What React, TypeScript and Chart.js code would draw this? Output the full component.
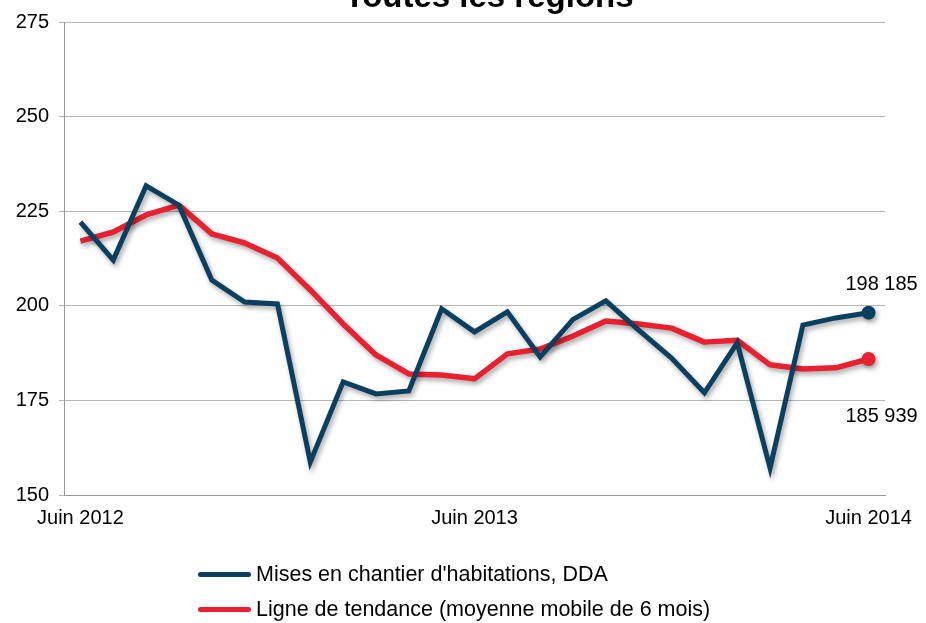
import React, { useEffect, useRef } from "react";
import { Chart, registerables } from "chart.js";

Chart.register(...registerables);

const TITLE = "Toutes les régions";

const MONTHS = [
  "Juin 2012", "Juil. 2012", "Août 2012", "Sept. 2012", "Oct. 2012", "Nov. 2012",
  "Déc. 2012", "Janv. 2013", "Févr. 2013", "Mars 2013", "Avr. 2013", "Mai 2013",
  "Juin 2013", "Juil. 2013", "Août 2013", "Sept. 2013", "Oct. 2013", "Nov. 2013",
  "Déc. 2013", "Janv. 2014", "Févr. 2014", "Mars 2014", "Avr. 2014", "Mai 2014",
  "Juin 2014",
];

const SHOWN_LABELS = ["Juin 2012", "Juin 2013", "Juin 2014"];

const MISES_EN_CHANTIER = [
  222.1, 212.1, 231.7, 226.6, 206.8, 201.0, 200.5, 158.7, 179.9, 176.7,
  177.5, 199.2, 193.1, 198.4, 186.5, 196.4, 201.3, 193.6, 186.2, 177.0,
  190.2, 157.1, 194.9, 196.8, 198.185,
];

const TENDANCE = [
  217.1, 219.5, 224.0, 226.6, 219.0, 216.6, 212.6, 204.2, 195.2, 187.0,
  182.0, 181.7, 180.7, 187.3, 188.6, 192.0, 196.0, 195.2, 194.1, 190.4,
  190.9, 184.4, 183.3, 183.6, 185.939,
];

const Y_TICKS = [150, 175, 200, 225, 250, 275];

const SERIES_NAMES = [
  "Mises en chantier d'habitations, DDA",
  "Ligne de tendance (moyenne mobile de 6 mois)",
];

const BLUE = "#0b3f5f";
const RED = "#e8202f";
const FONT = "Arial, 'Liberation Sans', sans-serif";

function fmt(v: number) {
  const n = Math.round(v * 1000).toString();
  return n.replace(/\B(?=(\d{3})+(?!\d))/g, " ");
}

export default function App() {
  const ref = useRef<HTMLCanvasElement | null>(null);

  useEffect(() => {
    document.body.style.margin = "0";
    const canvas = ref.current;
    if (!canvas) return;

    const titlePlugin = {
      id: "cutTitle",
      afterDraw(chart: any) {
        const ctx = chart.ctx;
        ctx.save();
        ctx.font = `bold 33px ${FONT}`;
        ctx.fillStyle = "#000";
        ctx.textAlign = "center";
        ctx.textBaseline = "alphabetic";
        ctx.fillText(TITLE, 489, 7);
        ctx.restore();
      },
    };

    const shadowPlugin = {
      id: "lineShadow",
      beforeDatasetDraw(chart: any) {
        const ctx = chart.ctx;
        ctx.save();
        ctx.shadowColor = "rgba(0,0,0,0.35)";
        ctx.shadowBlur = 5;
        ctx.shadowOffsetX = 2;
        ctx.shadowOffsetY = 3;
      },
      afterDatasetDraw(chart: any) {
        chart.ctx.restore();
      },
    };

    const valueLabels = {
      id: "valueLabels",
      afterDatasetsDraw(chart: any) {
        const ctx = chart.ctx;
        const offsets = [-28, 57];
        ctx.save();
        ctx.font = `20px ${FONT}`;
        ctx.fillStyle = "#000";
        ctx.textAlign = "center";
        ctx.textBaseline = "middle";
        chart.data.datasets.forEach((ds: any, i: number) => {
          const meta = chart.getDatasetMeta(i);
          const last = meta.data[meta.data.length - 1];
          const v = ds.data[ds.data.length - 1];
          ctx.fillText(fmt(v), last.x + 13, last.y + offsets[i]);
        });
        ctx.restore();
      },
    };

    const lastOnly = (r: number) => MONTHS.map((_, i) => (i === MONTHS.length - 1 ? r : 0));

    const chart = new Chart(canvas, {
      type: "line",
      data: {
        labels: MONTHS,
        datasets: [
          {
            label: SERIES_NAMES[0],
            data: MISES_EN_CHANTIER,
            borderColor: BLUE,
            backgroundColor: BLUE,
            borderWidth: 5,
            pointRadius: lastOnly(7),
            pointHoverRadius: lastOnly(7),
            pointBorderWidth: 0,
            tension: 0,
            borderJoinStyle: "miter",
          },
          {
            label: SERIES_NAMES[1],
            data: TENDANCE,
            borderColor: RED,
            backgroundColor: RED,
            borderWidth: 5.5,
            pointRadius: lastOnly(7),
            pointHoverRadius: lastOnly(7),
            pointBorderWidth: 0,
            tension: 0,
            borderJoinStyle: "round",
          },
        ],
      },
      options: {
        animation: false,
        responsive: false,
        layout: { padding: { top: 22, right: 41, bottom: 0, left: 0 } },
        plugins: {
          legend: { display: false },
          tooltip: { enabled: false },
          title: { display: false },
        },
        scales: {
          x: {
            offset: true,
            grid: { display: false, drawTicks: false },
            border: { display: true, color: "#9a9a9a", width: 1 },
            ticks: {
              autoSkip: false,
              maxRotation: 0,
              minRotation: 0,
              padding: 11,
              color: "#000",
              font: { family: FONT, size: 20 },
              callback: (_v: any, i: number) =>
                SHOWN_LABELS.includes(MONTHS[i]) ? MONTHS[i] : "",
            },
            afterFit: (s: any) => {
              s.height = 128;
            },
          },
          y: {
            min: 150,
            max: 275,
            afterBuildTicks: (s: any) => {
              s.ticks = Y_TICKS.map((v) => ({ value: v }));
            },
            grid: { color: "#b5b5b5", lineWidth: 1, tickLength: 5, drawTicks: true },
            border: { display: true, color: "#9a9a9a", width: 1 },
            ticks: {
              padding: 10,
              color: "#000",
              font: { family: FONT, size: 20 },
            },
            afterFit: (s: any) => {
              s.width = 64;
            },
          },
        },
      },
      plugins: [shadowPlugin, valueLabels, titlePlugin],
    } as any);

    return () => chart.destroy();
  }, []);

  const legendItem = (color: string, text: string, top: number) => (
    <div
      style={{
        position: "absolute",
        left: 198,
        top: top - 14,
        height: 28,
        display: "flex",
        alignItems: "center",
        fontFamily: FONT,
        fontSize: 21.5,
        color: "#000",
        whiteSpace: "nowrap",
      }}
    >
      <span
        style={{
          display: "inline-block",
          width: 53,
          height: 5,
          borderRadius: 3,
          background: color,
          marginRight: 5,
        }}
      />
      <span>{text}</span>
    </div>
  );

  return (
    <div style={{ position: "relative", width: 926, height: 623, overflow: "hidden", background: "#fff" }}>
      <canvas ref={ref} width={926} height={623} style={{ display: "block" }} />
      {legendItem(BLUE, SERIES_NAMES[0], 574)}
      {legendItem(RED, SERIES_NAMES[1], 609)}
    </div>
  );
}
